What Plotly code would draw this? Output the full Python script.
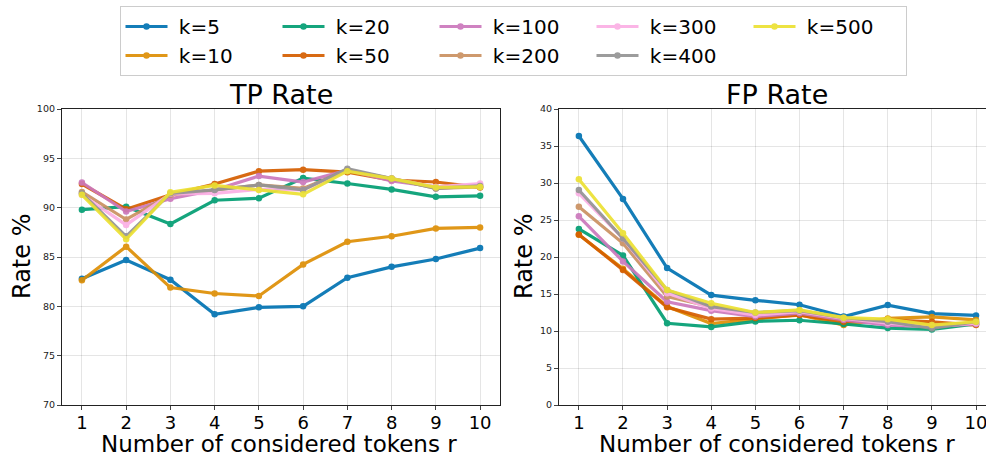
import plotly.graph_objects as go
from plotly.subplots import make_subplots

r_values = [1, 2, 3, 4, 5, 6, 7, 8, 9, 10]
k_labels = ["k=5", "k=10", "k=20", "k=50", "k=100", "k=200", "k=300", "k=400", "k=500"]
colors = ["#0173b2", "#de8f05", "#029e73", "#d55e00", "#cc78bc", "#ca9161", "#fbafe4", "#949494", "#ece133"]

tp_k5 = [82.8, 84.7, 82.7, 79.2, 79.9, 80.0, 82.9, 84.0, 84.8, 85.9]
tp_k10 = [82.65, 86.05, 81.9, 81.3, 81.05, 84.25, 86.55, 87.1, 87.9, 88.0]
tp_k20 = [89.8, 90.1, 88.35, 90.75, 90.95, 93.0, 92.45, 91.85, 91.1, 91.2]
tp_k50 = [92.4, 89.85, 91.3, 92.4, 93.7, 93.85, 93.6, 92.8, 92.6, 92.05]
tp_k100 = [92.55, 89.6, 90.9, 91.8, 93.2, 92.6, 93.8, 92.7, 92.1, 92.3]
tp_k200 = [91.6, 88.8, 91.3, 91.8, 92.3, 91.95, 93.8, 92.95, 91.95, 92.1]
tp_k300 = [91.3, 88.25, 91.4, 91.45, 91.85, 91.8, 93.8, 92.95, 92.1, 92.45]
tp_k400 = [91.45, 87.1, 91.45, 91.8, 92.3, 91.8, 93.95, 92.95, 91.95, 92.2]
tp_k500 = [91.3, 86.8, 91.55, 92.25, 91.8, 91.35, 93.7, 92.95, 92.05, 92.1]

fp_k5 = [36.35, 27.85, 18.5, 14.85, 14.15, 13.55, 11.95, 13.5, 12.35, 12.1]
fp_k10 = [23.0, 18.4, 13.3, 11.0, 11.6, 12.2, 10.8, 11.7, 11.9, 11.5]
fp_k20 = [23.8, 20.2, 11.05, 10.55, 11.3, 11.45, 10.95, 10.4, 10.2, 10.95]
fp_k50 = [23.05, 18.25, 13.2, 11.6, 11.75, 12.15, 11.25, 11.5, 11.25, 10.8]
fp_k100 = [25.5, 19.4, 13.95, 12.75, 11.95, 12.4, 11.5, 10.8, 10.6, 10.95]
fp_k200 = [26.8, 21.85, 14.65, 13.3, 12.4, 12.6, 11.7, 11.25, 10.8, 11.1]
fp_k300 = [28.6, 22.5, 15.1, 13.05, 12.15, 12.6, 11.7, 11.05, 10.6, 11.05]
fp_k400 = [29.05, 22.5, 15.55, 13.3, 12.5, 12.75, 11.8, 11.25, 10.35, 11.25]
fp_k500 = [30.5, 23.2, 15.55, 13.75, 12.5, 12.85, 11.8, 11.6, 10.8, 11.25]

tp_series = [tp_k5, tp_k10, tp_k20, tp_k50, tp_k100, tp_k200, tp_k300, tp_k400, tp_k500]
fp_series = [fp_k5, fp_k10, fp_k20, fp_k50, fp_k100, fp_k200, fp_k300, fp_k400, fp_k500]

# legend is column-major in the reference (2 rows); plotly fills rows first
legend_rank = [1, 6, 2, 7, 3, 8, 4, 9, 5]

FONT = "DejaVu Sans"
W, H = 986, 454
ML, MR = 62, 0
PW = W - ML - MR

def px_x(p):
    return (p - ML) / PW

def px_y(p):
    return (H - p) / H

fig = make_subplots(rows=1, cols=2)

for i, lab in enumerate(k_labels):
    fig.add_trace(go.Scatter(
        x=r_values, y=tp_series[i], mode="lines+markers", name="\u00a0" + lab,
        line=dict(color=colors[i], width=3.2), marker=dict(color=colors[i], size=6.5),
        opacity=0.92, legendgroup=lab, legendrank=legend_rank[i], showlegend=True,
    ), row=1, col=1)
for i, lab in enumerate(k_labels):
    fig.add_trace(go.Scatter(
        x=r_values, y=fp_series[i], mode="lines+markers", name=lab,
        line=dict(color=colors[i], width=3.2), marker=dict(color=colors[i], size=6.5),
        opacity=0.92, legendgroup=lab, legendrank=legend_rank[i], showlegend=False,
    ), row=1, col=2)

ydom = [px_y(405), px_y(109)]
grid = "rgba(0,0,0,0.1)"
common_x = dict(tickmode="array", tickvals=r_values, ticks="outside", ticklen=4,
                tickfont=dict(family=FONT, size=18, color="black"), showgrid=True,
                gridcolor=grid, gridwidth=1, showline=True, linecolor="#222", linewidth=1.2,
                mirror=True, zeroline=False, automargin=False, ticklabelstandoff=-3,
                ticklabeloverflow="allow")
common_y = dict(ticks="outside", ticklen=4, dtick=5,
                tickfont=dict(family=FONT, size=9.5, color="#222"), showgrid=True,
                gridcolor=grid, gridwidth=1, showline=True, linecolor="#222", linewidth=1.2,
                zeroline=False, automargin=False)

fig.update_xaxes(domain=[0, px_x(500)], range=[0.55, 10.45], **common_x, row=1, col=1)
fig.update_xaxes(domain=[px_x(559), 1.0], range=[0.55, 10.226], **common_x, row=1, col=2)
fig.update_yaxes(domain=ydom, range=[70, 100], mirror=True, **common_y, row=1, col=1)
fig.update_yaxes(domain=ydom, range=[0, 40], mirror=False, **common_y, row=1, col=2)

annots = [
    dict(text="TP Rate", x=px_x(281), y=px_y(95), size=27),
    dict(text="FP Rate", x=px_x(777), y=px_y(95), size=27),
    dict(text="Number of considered tokens r", x=px_x(279), y=px_y(444), size=23),
    dict(text="Number of considered tokens r", x=px_x(777), y=px_y(444), size=23),
]
for a in annots:
    fig.add_annotation(text=a["text"], x=a["x"], y=a["y"], xref="paper", yref="paper",
                       xanchor="center", yanchor="middle", showarrow=False,
                       font=dict(family=FONT, size=a["size"], color="black"))
for xc in (22, 524):
    fig.add_annotation(text="Rate %", x=px_x(xc), y=px_y(257), xref="paper", yref="paper",
                       xanchor="center", yanchor="middle", showarrow=False, textangle=-90,
                       font=dict(family=FONT, size=24, color="black"))

fig.update_layout(
    width=W, height=H,
    margin=dict(l=ML, r=MR, t=0, b=0, autoexpand=False),
    plot_bgcolor="white", paper_bgcolor="white",
    font=dict(family=FONT, color="black"),
    legend=dict(orientation="h", x=px_x(513), xanchor="center", y=px_y(6), yanchor="top",
                font=dict(family=FONT, size=20, color="black"),
                bordercolor="#cccccc", borderwidth=1, bgcolor="white",
                entrywidth=100, entrywidthmode="pixels", itemwidth=42,
                traceorder="normal", tracegroupgap=0),
)

fig.write_html("out.html", config={"displayModeBar": False},
               post_script="document.body.style.margin='0';document.body.style.overflow='hidden';")
